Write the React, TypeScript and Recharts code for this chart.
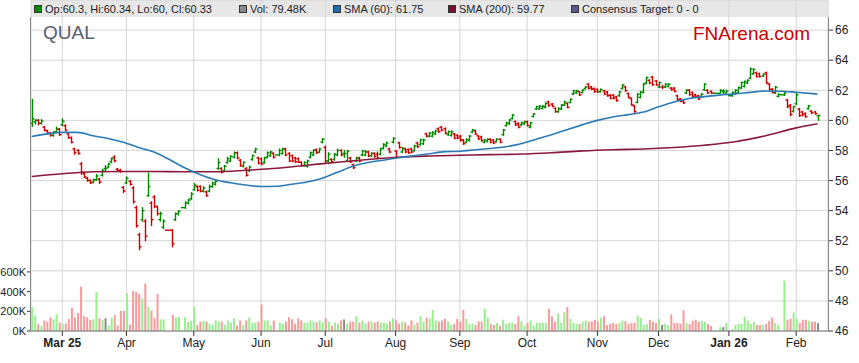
import React from 'react';
import { ComposedChart, Bar, Line, XAxis, YAxis, CartesianGrid, Cell } from 'recharts';

// slot = weekday index counted from Mon 17 Feb 2025; holidays keep an empty slot
const LAST_SLOT = 257;
const holidays = [44, 45, 49, 80, 223, 224, 228, 245];
const monthTicks = [10, 31, 53, 75, 96, 119, 140, 162, 185, 205, 228, 250];
const monthLabels = ['Mar 25', 'Apr', 'May', 'Jun', 'Jul', 'Aug', 'Sep', 'Oct', 'Nov', 'Dec', 'Jan 26', 'Feb'];
const priceTicks = [46, 48, 50, 52, 54, 56, 58, 60, 62, 64, 66];
const volTicks = [0, 200, 400, 600];

const opens = [
  59.8, 59.9, 60.0, 59.8, 59.55, 59.3, 59.15, 59.0, 59.25, 59.4,
  59.7, 59.65, 59.1, 58.85, 58.1, 58.0, 57.1, 56.45, 56.15, 56.0,
  55.9, 56.05, 56.1, 56.35, 56.8, 56.9, 57.25, 57.55, 56.75, 56.7,
  55.55, 55.85, 55.95, 55.5, 54.2, 52.4, 53.4, 53.3, 55.0, 54.5,
  54.9, 54.25, 53.4, 52.9,
  52.7, 53.4, 53.8,
  54.2, 54.5, 54.8, 55.4, 55.6, 55.6, 55.3, 55.25, 55.3, 55.6,
  55.75, 56.8, 56.8, 56.65, 57.2, 57.3, 57.55, 57.85, 57.35, 56.95,
  56.8, 56.65, 57.4, 57.9, 57.5, 57.45, 57.2, 57.55, 57.65, 57.8,
  57.7, 57.8, 58.1, 57.8, 57.65, 57.5, 57.45, 57.2, 57.0, 56.95,
  57.55, 57.7, 58.05, 57.9, 58.55, 58.2, 57.3, 57.4, 57.4, 57.7,
  58.0, 57.8, 57.3, 57.5, 57.05, 57.3, 57.5, 57.7, 57.7, 57.9,
  57.65, 57.8, 57.75, 57.75, 58.15, 58.3, 58.1, 58.55, 57.95, 58.5,
  57.9, 58.1, 58.05, 58.1, 58.0, 58.5, 58.4, 58.45, 59.1, 58.95,
  58.95, 59.1, 59.45, 59.55, 59.45, 59.05, 59.0, 59.1, 59.0, 58.95,
  58.7, 58.55, 58.67, 59.22, 59.3, 58.97, 58.9, 58.55, 58.6, 58.74,
  58.7, 58.6, 58.74, 59.05, 59.65, 59.77, 60.13, 59.92, 59.8, 59.7,
  59.76, 59.9, 59.55, 60.26, 60.75, 60.76, 60.8, 60.87, 61.23, 61.08,
  60.8, 60.58, 60.76, 61.02, 61.12, 61.19, 61.75, 61.82, 61.9, 61.85,
  62.12, 62.4, 62.22, 62.11, 62.05, 61.9, 61.96, 61.89, 61.67, 61.67,
  61.56, 61.64, 62.12, 62.22, 61.78, 61.45, 60.96, 61.2, 61.53, 61.86,
  62.48, 62.66, 62.88, 62.62, 62.22, 62.22, 62.22, 62.26, 62.14, 62.14,
  61.63, 61.41, 61.3, 61.82, 62.0, 61.85, 61.7, 61.63, 61.6, 62.04, 62.0, 61.92,
  61.8, 61.9, 61.82,
  61.64, 61.78, 61.86, 62.15, 62.26, 62.48, 62.8, 63.1, 63.17, 63.1, 62.95, 63.17, 62.4, 62.07, 61.82, 61.6,
  61.7, 61.35, 61.0, 60.6, 61.1, 60.75, 60.55, 60.45, 60.78, 60.62, 60.55, 60.3,
];

const highs = [
  61.4, 60.05, 60.05, 60.05, 59.6, 59.35, 59.2, 59.25, 59.55, 59.45,
  60.1, 59.7, 59.15, 58.9, 58.15, 58.05, 57.2, 56.5, 56.2, 56.05,
  56.1, 56.4, 56.15, 56.75, 57.0, 57.15, 57.5, 57.65, 56.8, 56.75,
  55.6, 56.25, 56.0, 55.6, 54.3, 52.5, 54.2, 53.4, 56.5, 54.6,
  55.0, 54.3, 53.9, 53.4,
  52.75, 53.85, 54.0,
  54.6, 54.75, 55.2, 55.8, 55.65, 55.65, 55.6, 55.3, 55.7, 55.9,
  56.0, 57.45, 56.85, 57.0, 57.55, 57.65, 57.9, 57.9, 57.4, 57.25,
  56.85, 56.95, 57.7, 58.15, 57.55, 57.5, 57.55, 57.9, 57.95, 57.85,
  58.1, 58.15, 58.15, 57.85, 57.7, 57.55, 57.5, 57.25, 57.25, 57.35,
  57.9, 58.05, 58.1, 58.15, 58.8, 58.3, 57.85, 57.45, 57.8, 58.1,
  58.05, 58.0, 58.0, 57.55, 57.1, 57.55, 57.55, 58.0, 58.0, 57.95,
  57.85, 57.85, 57.9, 58.15, 58.45, 58.55, 58.15, 58.85, 58.0, 58.55,
  58.2, 58.15, 58.1, 58.15, 58.35, 58.55, 58.75, 58.75, 59.15, 59.2,
  59.25, 59.35, 59.5, 59.6, 59.5, 59.3, 59.3, 59.13, 59.06, 59.0,
  58.73, 58.78, 59.0, 59.4, 59.35, 59.0, 58.95, 58.73, 58.78, 58.78,
  58.73, 58.78, 58.78, 59.4, 59.88, 60.06, 60.39, 59.95, 59.84, 59.88,
  59.95, 59.95, 59.88, 60.45, 60.94, 60.98, 60.98, 61.16, 61.27, 61.12,
  60.83, 60.83, 61.05, 61.27, 61.16, 61.43, 62.0, 62.0, 61.93, 62.04,
  62.26, 62.44, 62.26, 62.15, 62.09, 62.09, 62.0, 61.93, 61.71, 61.71,
  61.6, 61.93, 62.38, 62.26, 61.82, 61.49, 61.0, 61.78, 61.93, 62.44,
  62.88, 62.7, 62.92, 62.66, 62.55, 62.33, 62.44, 62.44, 62.18, 62.18,
  61.67, 61.45, 61.34, 62.04, 62.04, 61.89, 61.74, 61.67, 61.78, 62.44, 62.04, 61.96,
  62.04, 62.04, 62.0,
  61.89, 62.04, 62.22, 62.55, 62.62, 62.7, 63.49, 63.43, 63.21, 63.14, 63.1, 63.21, 62.44, 62.11, 62.26, 61.78,
  61.85, 61.4, 61.05, 60.95, 61.85, 60.8, 60.6, 60.5, 61.0, 60.65, 60.6, 60.34,
];

const lows = [
  59.6, 59.75, 59.7, 59.75, 59.3, 59.1, 58.95, 58.95, 59.2, 59.0,
  59.65, 59.3, 58.8, 58.5, 57.75, 57.75, 56.4, 56.2, 55.95, 55.8,
  55.85, 56.0, 55.8, 56.3, 56.6, 56.85, 57.2, 57.25, 56.6, 56.55,
  55.2, 55.8, 55.7, 54.5, 52.9, 51.4, 53.3, 52.0, 54.95, 53.0,
  54.2, 53.7, 53.3, 52.8,
  51.6, 53.35, 53.7,
  54.15, 54.45, 54.75, 55.35, 55.3, 55.25, 55.25, 54.95, 55.25, 55.55,
  55.7, 56.75, 56.5, 56.6, 57.15, 57.25, 57.5, 57.45, 56.95, 56.9,
  56.3, 56.6, 57.35, 57.85, 57.1, 57.05, 57.15, 57.5, 57.6, 57.5,
  57.65, 57.75, 57.65, 57.25, 57.25, 57.2, 57.2, 56.95, 56.95, 56.9,
  57.5, 57.65, 57.8, 57.85, 58.5, 57.2, 57.2, 57.2, 57.35, 57.65,
  57.65, 57.55, 57.25, 57.2, 56.8, 57.25, 57.25, 57.65, 57.65, 57.6,
  57.6, 57.55, 57.45, 57.7, 58.1, 58.25, 57.85, 58.5, 57.5, 58.15,
  57.85, 57.85, 57.8, 57.85, 57.95, 58.2, 58.35, 58.4, 58.9, 58.9,
  58.9, 59.05, 59.2, 59.3, 59.1, 59.0, 58.95, 58.78, 58.78, 58.62,
  58.4, 58.51, 58.62, 59.2, 59.06, 58.73, 58.62, 58.51, 58.56, 58.51,
  58.45, 58.56, 58.51, 59.0, 59.62, 59.73, 60.1, 59.66, 59.5, 59.66,
  59.73, 59.62, 59.5, 60.23, 60.72, 60.72, 60.76, 60.83, 60.94, 60.9,
  60.54, 60.54, 60.72, 60.98, 60.83, 61.16, 61.71, 61.78, 61.65, 61.82,
  62.09, 62.09, 62.04, 61.87, 61.87, 61.87, 61.71, 61.6, 61.43, 61.43,
  61.27, 61.6, 62.09, 61.93, 61.49, 61.0, 60.54, 61.16, 61.49, 61.82,
  62.44, 62.44, 62.33, 62.33, 62.18, 62.11, 62.18, 62.22, 62.0, 61.89,
  61.34, 61.23, 61.12, 61.78, 61.67, 61.56, 61.52, 61.38, 61.56, 62.0, 61.78, 61.78,
  61.8, 61.78, 61.78,
  61.6, 61.74, 61.82, 62.11, 62.22, 62.44, 62.77, 63.05, 62.88, 62.88, 62.92, 62.44, 62.0, 61.82, 61.78, 61.56,
  61.65, 60.85, 60.3, 60.55, 61.05, 60.26, 60.3, 60.2, 60.74, 60.45, 60.4, 60.0,
];

const closes = [
  60.1, 60.0, 59.8, 59.95, 59.35, 59.15, 59.0, 59.2, 59.45, 59.05,
  59.95, 59.35, 58.85, 58.55, 57.85, 57.8, 56.55, 56.25, 56.0, 55.85,
  56.05, 56.3, 55.9, 56.65, 56.8, 57.1, 57.45, 57.3, 56.65, 56.6,
  55.3, 56.15, 55.75, 54.6, 53.0, 51.6, 54.0, 52.3, 55.6, 53.4,
  54.3, 53.8, 53.8, 53.3,
  51.8, 53.8, 53.95,
  54.5, 54.7, 55.1, 55.7, 55.35, 55.3, 55.5, 55.0, 55.6, 55.85,
  55.95, 57.2, 56.55, 56.95, 57.45, 57.6, 57.85, 57.5, 57.0, 57.2,
  56.35, 56.9, 57.65, 58.1, 57.15, 57.1, 57.5, 57.85, 57.9, 57.55,
  58.0, 58.1, 57.7, 57.3, 57.3, 57.25, 57.22, 57.0, 57.2, 57.3,
  57.85, 58.0, 57.85, 58.1, 58.75, 57.3, 57.75, 57.25, 57.75, 58.0,
  57.7, 57.8, 57.95, 57.25, 56.85, 57.5, 57.3, 57.95, 57.9, 57.65,
  57.8, 57.6, 57.5, 58.1, 58.4, 58.5, 57.9, 58.8, 57.55, 58.2,
  58.15, 57.9, 57.85, 57.9, 58.3, 58.25, 58.7, 58.7, 58.95, 59.15,
  59.2, 59.3, 59.25, 59.35, 59.15, 59.25, 59.25, 58.82, 58.82, 58.67,
  58.45, 58.73, 58.95, 59.36, 59.1, 58.77, 58.66, 58.7, 58.74, 58.55,
  58.5, 58.74, 58.55, 59.35, 59.84, 60.02, 60.35, 59.7, 59.55, 59.84,
  59.91, 59.66, 59.84, 60.42, 60.9, 60.94, 60.94, 61.12, 60.98, 60.94,
  60.58, 60.79, 61.01, 61.23, 60.87, 61.4, 61.96, 61.96, 61.69, 62.0,
  62.22, 62.13, 62.08, 61.91, 61.91, 62.05, 61.75, 61.64, 61.47, 61.47,
  61.31, 61.89, 62.34, 61.97, 61.53, 61.04, 60.58, 61.74, 61.89, 62.4,
  62.84, 62.48, 62.37, 62.37, 62.51, 62.2, 62.4, 62.4, 62.04, 61.93,
  61.38, 61.27, 61.16, 62.0, 61.71, 61.6, 61.56, 61.42, 61.74, 62.4, 61.82, 61.82,
  62.0, 61.92, 61.96,
  61.85, 62.0, 62.18, 62.51, 62.58, 62.66, 63.4, 63.38, 62.92, 62.92, 63.06, 62.5, 62.05, 61.86, 62.2, 61.72,
  61.8, 60.9, 60.4, 60.9, 61.7, 60.32, 60.35, 60.25, 60.95, 60.5, 60.45, 60.33,
];

// volume in thousands
const volumes = [
  243, 157, 71, 50, 107, 96, 139, 118, 171, 86,
  75, 75, 121, 236, 139, 182, 450, 150, 139, 111,
  118, 396, 129, 111, 129, 57, 132, 161, 54, 204,
  204, 386, 64, 407, 396, 375, 332, 482, 246, 207,
  132, 375, 118, 118,
  164, 136, 143,
  139, 93, 104, 246, 61, 96, 104, 96, 75, 64,
  107, 96, 96, 64, 107, 86, 129, 54, 107, 61,
  107, 139, 86, 86, 96, 268, 107, 107, 54, 107,
  86, 75, 96, 139, 118, 75, 129, 107, 86, 86,
  107, 96, 86, 107, 86, 129, 96, 54, 86, 75,
  107, 118, 75, 96, 96, 150, 86, 107, 75, 96,
  96, 86, 96, 86, 86, 75, 96, 129, 107, 75,
  96, 86, 54, 107, 64, 86, 150, 96, 136, 125,
  214, 107, 96, 107, 125, 96, 61, 71, 125, 96,
  214, 125, 71, 71, 61, 96, 96, 225, 136, 71,
  61, 82, 54, 114, 71, 82, 82, 71, 150, 96,
  54, 82, 107, 54, 82, 82, 82, 82, 225, 150,
  96, 179, 82, 189, 243, 125, 82, 71, 71, 96,
  107, 96, 96, 114, 96, 136, 150, 61, 71, 82,
  71, 82, 107, 100, 71, 82, 82, 157, 136, 61,
  71, 114, 93, 82, 125, 61, 71, 61, 168, 82,
  82, 71, 211, 82, 71, 104, 114, 93, 104, 93, 71, 50,
  39, 39, 82,
  18, 61, 71, 71, 146, 104, 71, 93, 61, 61, 61, 71, 104, 136, 82, 61,
  511, 114, 125, 189, 125, 82, 114, 114, 104, 93, 93, 79.48,
];

const sma60Slots = [0, 5, 10, 15, 20, 25, 30, 35, 40, 45, 50, 55, 60, 65, 70, 75, 80, 85, 90, 95, 100, 105, 110, 115, 120, 125, 130, 135, 140, 145, 150, 155, 160, 165, 170, 175, 180, 185, 190, 195, 200, 205, 210, 215, 220, 225, 230, 235, 240, 245, 250, 257];
const sma60Values = [58.93, 59.1, 59.2, 59.2, 58.98, 58.8, 58.55, 58.2, 57.9, 57.4, 56.85, 56.4, 56.05, 55.85, 55.7, 55.6, 55.62, 55.75, 55.9, 56.15, 56.55, 56.95, 57.2, 57.35, 57.52, 57.65, 57.78, 57.92, 57.95, 58.05, 58.13, 58.25, 58.45, 58.75, 59.05, 59.38, 59.7, 60.0, 60.22, 60.38, 60.55, 60.9, 61.22, 61.45, 61.58, 61.68, 61.76, 61.86, 61.95, 61.94, 61.87, 61.75];
const sma200Slots = [0, 10, 20, 30, 40, 50, 60, 70, 80, 90, 100, 110, 120, 130, 140, 150, 160, 170, 180, 190, 200, 210, 220, 230, 240, 250, 257];
const sma200Values = [56.27, 56.45, 56.58, 56.6, 56.6, 56.58, 56.58, 56.68, 56.82, 57.02, 57.22, 57.4, 57.55, 57.63, 57.68, 57.72, 57.76, 57.85, 57.97, 58.05, 58.1, 58.2, 58.35, 58.58, 58.98, 59.5, 59.77];

const SLOT_PX = 3.058;
const X_DOMAIN: [number, number] = [-0.23, 260.4];
const FONT = '"Liberation Sans", Arial, Helvetica, sans-serif';

const tradingSlots: number[] = [];
for (let i = 0; i <= LAST_SLOT; i++) if (!holidays.includes(i)) tradingSlots.push(i);

const rows = tradingSlots.map((i, k) => ({
  i,
  o: opens[k],
  h: highs[k],
  l: lows[k],
  c: closes[k],
  range: [lows[k], highs[k]],
  v: volumes[k],
  gap: k === 0 ? 1 : i - tradingSlots[k - 1],
}));

const sma60Data = sma60Slots.map((i, k) => ({ i, sma: sma60Values[k] }));
const sma200Data = sma200Slots.map((i, k) => ({ i, sma: sma200Values[k] }));

const volColor = (r: any) => {
  if (Math.abs(r.c - r.o) <= 0.035) return '#8a8a8a';
  return r.c > r.o ? '#99ee90' : '#f79a9a';
};

const OhlcShape = (props: any) => {
  const { x, y, width, height, payload } = props;
  if (!payload || height == null) return null;
  const { o, h, l, c, gap } = payload;
  const top = Math.min(y, y + height);
  const span = Math.abs(height);
  const k = h - l > 0 ? span / (h - l) : 0;
  const cx = Math.round(x + width / 2) + 0.5;
  const yO = top + (h - o) * k;
  const yC = top + (h - c) * k;
  const col = c >= o ? '#008a00' : '#d00000';
  const left = gap > 1 ? gap * SLOT_PX - 1.5 : 2;
  return (
    <g stroke={col} strokeWidth={1.4}>
      <line x1={cx} x2={cx} y1={top - 0.5} y2={top + Math.max(span, 1) + 0.5} />
      <line x1={cx - left} x2={cx} y1={yO} y2={yO} />
      <line x1={cx} x2={cx + 2} y1={yC} y2={yC} />
    </g>
  );
};

const MonthTick = (props: any) => {
  const { x, y, payload } = props;
  const idx = monthTicks.indexOf(payload.value);
  const label = idx >= 0 ? monthLabels[idx] : '';
  const bold = label.includes(' ');
  return (
    <text x={x} y={y} dy="0.71em" textAnchor="middle" fontSize={12} fontFamily={FONT}
      fontWeight={bold ? 'bold' : 'normal'} fill="#222">{label}</text>
  );
};

const last = rows[rows.length - 1];
const legendItems = [
  { x: 34, color: '#008a00', text: `Op:${last.o}, Hi:${last.h}, Lo:${last.l}, Cl:${last.c}` },
  { x: 239, color: '#8a8a8a', text: `Vol: ${last.v}K` },
  { x: 333, color: '#1f6fb0', text: `SMA (60): ${sma60Values[sma60Values.length - 1]}` },
  { x: 448, color: '#7b0f2e', text: `SMA (200): ${sma200Values[sma200Values.length - 1]}` },
  { x: 571, color: '#5a5a8a', text: 'Consensus Target: 0 - 0' },
];

export default function App() {
  return (
    <div style={{ position: 'absolute', left: 0, top: 0, width: 859, height: 363, background: '#fff', fontFamily: FONT }}>
      <div style={{ position: 'absolute', left: 31, top: 0, width: 797, height: 17, background: '#e7e7e7' }} />
      <div style={{ position: 'absolute', left: 0, top: 0 }}>
        <ComposedChart width={859} height={363} data={rows} margin={{ top: 0, right: 0, bottom: 0, left: 0 }}
          style={{ fontFamily: FONT }}>
          <CartesianGrid xAxisId="px" yAxisId="price" stroke="#d6d6d6" strokeWidth={1} />
          <XAxis xAxisId="px" dataKey="i" type="number" domain={X_DOMAIN} allowDataOverflow
            ticks={monthTicks} interval={0} height={32} tick={<MonthTick />}
            tickSize={5} tickMargin={2} stroke="#777" tickLine={{ stroke: '#333' }} />
          <XAxis xAxisId="vx" dataKey="i" type="number" domain={X_DOMAIN} allowDataOverflow hide />
          <YAxis yAxisId="price" orientation="right" domain={[46, 68]} ticks={priceTicks} interval={0} width={31}
            axisLine={false} tickSize={5} tickMargin={2} tickLine={{ stroke: '#333' }}
            tick={{ fontSize: 12, fill: '#222', fontFamily: FONT }} allowDataOverflow />
          <YAxis yAxisId="vol" orientation="left" domain={[0, 3360]} ticks={volTicks} interval={0} width={31}
            axisLine={false} tickSize={4} tickMargin={1} tickLine={{ stroke: '#333' }}
            tickFormatter={(v: number) => `${v}K`}
            tick={{ fontSize: 11, fill: '#222', fontFamily: FONT }} allowDataOverflow />
          <Bar xAxisId="vx" yAxisId="vol" dataKey="v" barSize={2} isAnimationActive={false}>
            {rows.map((r, k) => <Cell key={k} fill={volColor(r)} />)}
          </Bar>
          <Line xAxisId="px" yAxisId="price" data={sma200Data} dataKey="sma" type="monotone"
            stroke="#8a1a3c" strokeWidth={1.6} dot={false} isAnimationActive={false} />
          <Line xAxisId="px" yAxisId="price" data={sma60Data} dataKey="sma" type="monotone"
            stroke="#2a7ab8" strokeWidth={1.6} dot={false} isAnimationActive={false} />
          <Bar xAxisId="px" yAxisId="price" dataKey="range" barSize={3} isAnimationActive={false}
            shape={(p: any) => <OhlcShape {...p} />} />
        </ComposedChart>
      </div>
      <svg width={859} height={363} style={{ position: 'absolute', left: 0, top: 0, pointerEvents: 'none' }}>
        <line x1={30.5} x2={30.5} y1={17} y2={331} stroke="#888" />
        <line x1={828.5} x2={828.5} y1={17} y2={331} stroke="#888" />
        {legendItems.map((it) => (
          <g key={it.x}>
            <rect x={it.x + 0.5} y={5.5} width={7} height={7} fill={it.color} stroke="#333" strokeWidth={1} />
            <text x={it.x + 11} y={13} fontSize={11} fill="#222" fontFamily={FONT}>{it.text}</text>
          </g>
        ))}
        <text x={43} y={39} fontSize={19} fill="#56606c" fontFamily={FONT}>QUAL</text>
        <text x={693} y={40} fontSize={19} fill="#cc0000" fontFamily={FONT}>FNArena.com</text>
      </svg>
    </div>
  );
}
